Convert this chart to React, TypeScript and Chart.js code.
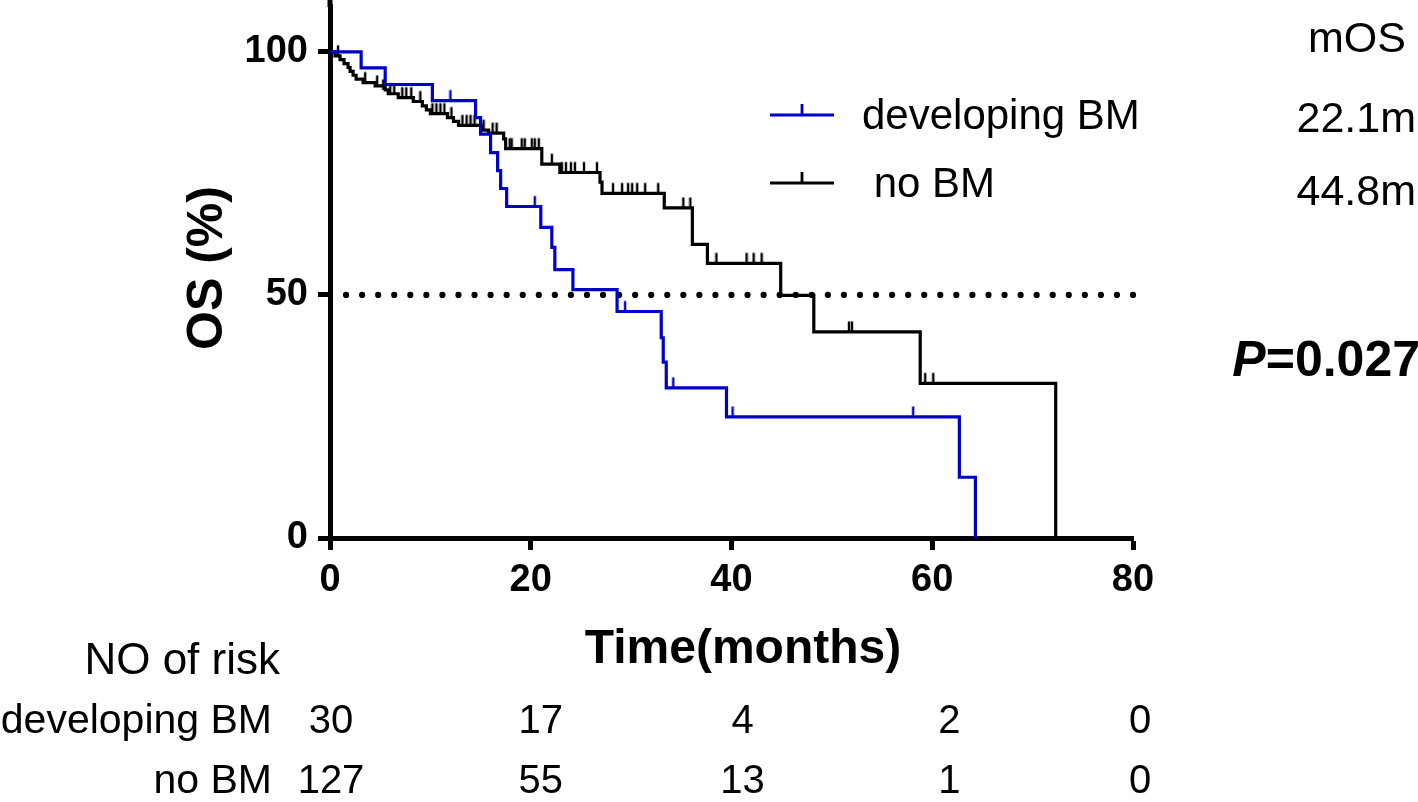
import React, { useEffect, useRef } from "react";
import { Chart, registerables } from "chart.js";

Chart.register(...registerables);

const FONT = '"Liberation Sans", Arial, Helvetica, sans-serif';
const BLUE = "#0000C8";

const timeTicks = [0, 20, 40, 60, 80];
const survivalTicks = [0, 50, 100];

// developing BM (Kaplan-Meier steps: time, survival after the step)
const bmTimes = [0, 3.1, 5.5, 10.2, 14.5, 15.0, 16.0, 16.7, 17.0, 17.6, 21.0, 22.1, 22.4, 24.2, 28.6, 33.0, 33.2, 33.5, 39.5, 62.7, 64.3];
const bmSurvival = [100, 96.7, 93.3, 90.0, 86.5, 83.1, 79.3, 75.6, 71.9, 68.2, 63.9, 59.8, 55.2, 51.1, 46.6, 41.2, 36.2, 30.9, 24.9, 12.5, 0];
const bmCensorTimes = [12.0, 20.4, 29.4, 34.2, 40.1, 58.1];
const bmCensorSurvival = [90.0, 68.2, 46.6, 30.9, 24.9, 24.9];

// no BM
const noBmTimes = [0, 0.5, 1.0, 1.4, 1.8, 2.0, 2.3, 2.6, 3.3, 4.5, 5.5, 5.8, 6.8, 8.3, 9.2, 9.6, 10.0, 11.7, 12.3, 12.8, 15.1, 15.8, 17.3, 17.5, 21.1, 22.9, 26.9, 27.1, 33.3, 36.1, 37.6, 44.9, 48.2, 58.8, 72.3];
const noBmSurvival = [100, 99.2, 98.4, 97.6, 96.8, 96.0, 95.2, 94.4, 93.7, 93.0, 92.2, 91.4, 90.6, 89.8, 88.9, 88.1, 87.3, 86.5, 85.7, 84.9, 83.9, 83.3, 82.1, 80.1, 76.9, 75.2, 73.2, 70.9, 67.9, 60.4, 56.5, 49.9, 42.4, 31.8, 0];
const noBmCensorTimes = [0.8, 3.5, 4.7, 5.3, 6.0, 6.4, 7.2, 7.6, 8.1, 9.0, 10.2, 10.6, 11.0, 11.4, 12.1, 13.2, 13.6, 14.0, 14.4, 15.3, 16.2, 16.6, 17.9, 18.1, 19.1, 19.4, 20.1, 20.4, 20.8, 22.1, 23.1, 23.5, 24.0, 24.4, 25.3, 26.6, 28.2, 29.1, 29.7, 30.1, 30.6, 31.4, 32.7, 35.2, 35.9, 38.5, 41.5, 42.2, 43.0, 51.7, 52.0, 59.3, 60.1];
const noBmCensorSurvival = [99.2, 93.7, 93.0, 92.2, 91.4, 91.4, 90.6, 90.6, 90.6, 89.8, 87.3, 87.3, 87.3, 87.3, 86.5, 84.9, 84.9, 84.9, 84.9, 83.9, 83.3, 83.3, 80.1, 80.1, 80.1, 80.1, 80.1, 80.1, 80.1, 76.9, 75.2, 75.2, 75.2, 75.2, 75.2, 75.2, 70.9, 70.9, 70.9, 70.9, 70.9, 70.9, 70.9, 67.9, 67.9, 56.5, 56.5, 56.5, 56.5, 42.4, 42.4, 31.8, 31.8];

const medianLine = [50, 50];
const medianLineTimes = [0, 80];

// number at risk
const riskGroups = ["developing BM", "no BM"];
const riskBm = ["30", "17", "4", "2", "0"];
const riskNoBm = ["127", "55", "13", "1", "0"];

const legendLabels = ["developing BM", " no BM"];
const mosHeader = "mOS";
const mosValues = ["22.1m", "44.8m"];
const pText = "=0.027";

function makeTick(color: string) {
  const c = document.createElement("canvas");
  c.width = 4;
  c.height = 24;
  const g = c.getContext("2d")!;
  g.strokeStyle = color;
  g.lineWidth = 2.4;
  g.beginPath();
  g.moveTo(2, 1.5);
  g.lineTo(2, 12);
  g.stroke();
  return c;
}

const dotsPlugin = {
  id: "medianDots",
  beforeDatasetsDraw(chart: any) {
    const ctx = chart.ctx as CanvasRenderingContext2D;
    const xs = chart.scales.x;
    const ys = chart.scales.y;
    const x0 = xs.getPixelForValue(medianLineTimes[0]);
    const x1 = xs.getPixelForValue(medianLineTimes[1]);
    const y = ys.getPixelForValue(medianLine[0]);
    const n = 50;
    const step = (x1 - x0) / n;
    ctx.save();
    ctx.fillStyle = "#000";
    for (let k = 1; k <= n; k++) {
      ctx.beginPath();
      ctx.arc(x0 + k * step, y, 3.1, 0, Math.PI * 2);
      ctx.fill();
    }
    ctx.restore();
  },
};

const textPlugin = {
  id: "kmText",
  afterDraw(chart: any) {
    const ctx = chart.ctx as CanvasRenderingContext2D;
    const xs = chart.scales.x;
    const area = chart.chartArea;
    ctx.save();
    ctx.fillStyle = "#000";

    // extend the y axis line up to the top edge
    if (area.top > 0) ctx.fillRect(area.left - 2.5, 0, 5, area.top + 1);

    // axis titles
    ctx.font = `bold 48px ${FONT}`;
    ctx.textAlign = "center";
    ctx.textBaseline = "middle";
    ctx.fillText("Time(months)", 743, 650);
    ctx.save();
    ctx.translate(208, 268);
    ctx.rotate(-Math.PI / 2);
    ctx.font = `bold 50px ${FONT}`;
    ctx.fillText("OS (%)", 0, 0);
    ctx.restore();

    // legend
    const legendY = [115, 183];
    const legendCol = [BLUE, "#000"];
    for (let i = 0; i < 2; i++) {
      ctx.strokeStyle = legendCol[i];
      ctx.lineWidth = 2.8;
      ctx.beginPath();
      ctx.moveTo(770, legendY[i]);
      ctx.lineTo(834, legendY[i]);
      ctx.moveTo(802, legendY[i]);
      ctx.lineTo(802, legendY[i] - 11);
      ctx.stroke();
      ctx.font = `42px ${FONT}`;
      ctx.textAlign = "left";
      ctx.fillStyle = "#000";
      ctx.fillText(legendLabels[i], 862, legendY[i] + 2);
    }

    // mOS block
    ctx.font = `43px ${FONT}`;
    ctx.textAlign = "center";
    ctx.fillText(mosHeader, 1357, 40);
    ctx.textAlign = "right";
    ctx.fillText(mosValues[0], 1416, 120);
    ctx.fillText(mosValues[1], 1416, 193);

    // P value
    ctx.font = `bold 50px ${FONT}`;
    ctx.textAlign = "right";
    const w = ctx.measureText(pText).width;
    ctx.fillText(pText, 1420, 362);
    ctx.font = `italic bold 50px ${FONT}`;
    ctx.fillText("P", 1420 - w, 362);

    // number at risk table
    ctx.font = `44px ${FONT}`;
    ctx.textAlign = "right";
    ctx.fillText("NO of risk", 280, 662);
    ctx.font = `41px ${FONT}`;
    ctx.fillText(riskGroups[0], 272, 722);
    ctx.fillText(riskGroups[1], 272, 782);
    ctx.textAlign = "center";
    ctx.font = `40px ${FONT}`;
    const offs = [1, 10, 11, 17, 7];
    timeTicks.forEach((t, i) => {
      const px = xs.getPixelForValue(t) + offs[i];
      ctx.fillText(riskBm[i], px, 722);
      ctx.fillText(riskNoBm[i], px, 782);
    });
    ctx.restore();
  },
};

export default function App() {
  const ref = useRef<HTMLCanvasElement>(null);
  useEffect(() => {
    if (!ref.current) return;
    const blueTick = makeTick(BLUE);
    const blackTick = makeTick("#000");
    const chart = new Chart(ref.current, {
      type: "line",
      data: {
        datasets: [
          {
            data: bmTimes.map((t, i) => ({ x: t, y: bmSurvival[i] })),
            stepped: true,
            borderColor: BLUE,
            borderWidth: 3.2,
            pointRadius: 0,
            fill: false,
          },
          {
            data: bmCensorTimes.map((t, i) => ({ x: t, y: bmCensorSurvival[i] })),
            showLine: false,
            pointStyle: blueTick as any,
            pointRadius: 5,
          },
          {
            data: noBmTimes.map((t, i) => ({ x: t, y: noBmSurvival[i] })),
            stepped: true,
            borderColor: "#000",
            borderWidth: 3.2,
            pointRadius: 0,
            fill: false,
          },
          {
            data: noBmCensorTimes.map((t, i) => ({ x: t, y: noBmCensorSurvival[i] })),
            showLine: false,
            pointStyle: blackTick as any,
            pointRadius: 5,
          },
        ],
      },
      options: {
        animation: false,
        responsive: false,
        layout: { padding: { left: 0, right: 285, top: 0, bottom: 0 } },
        plugins: { legend: { display: false }, tooltip: { enabled: false } },
        scales: {
          x: {
            type: "linear",
            min: 0,
            max: 80,
            afterBuildTicks(s: any) {
              s.ticks = timeTicks.map((v) => ({ value: v }));
            },
            afterFit(s: any) {
              s.height = 264;
              s.paddingLeft = 0;
              s.paddingRight = 0;
            },
            ticks: {
              font: { family: FONT, size: 38, weight: "bold" },
              color: "#000",
              padding: 8,
              maxRotation: 0,
            },
            grid: {
              display: true,
              drawOnChartArea: false,
              drawTicks: true,
              tickLength: 12,
              tickWidth: 5,
              color: "#000",
            },
            border: { display: true, width: 5, color: "#000" },
          },
          y: {
            type: "linear",
            min: 0,
            max: 109.45,
            afterBuildTicks(s: any) {
              s.ticks = survivalTicks.map((v) => ({ value: v }));
            },
            afterFit(s: any) {
              s.width = 330;
              s.paddingTop = 0;
              s.paddingBottom = 0;
            },
            ticks: {
              font: { family: FONT, size: 38, weight: "bold" },
              color: "#000",
              padding: 10,
            },
            grid: {
              display: true,
              drawOnChartArea: false,
              drawTicks: true,
              tickLength: 12,
              tickWidth: 5,
              color: "#000",
            },
            border: { display: true, width: 5, color: "#000" },
          },
        },
      },
      plugins: [dotsPlugin, textPlugin],
    } as any);
    return () => chart.destroy();
  }, []);
  return (
    <div style={{ position: "absolute", left: 0, top: 0, width: 1418, height: 802, background: "#fff" }}>
      <canvas ref={ref} width={1418} height={802} style={{ display: "block", width: 1418, height: 802 }} />
    </div>
  );
}
